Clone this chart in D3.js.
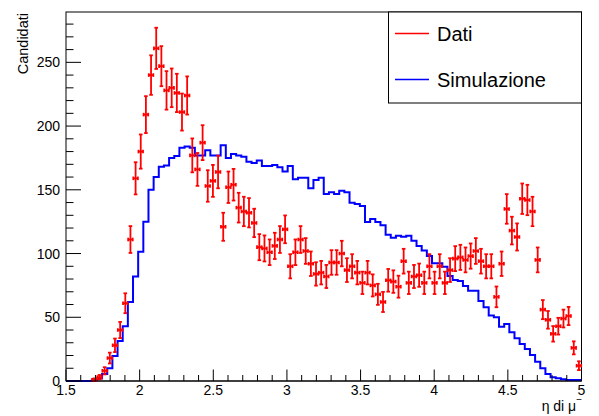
<!DOCTYPE html>
<html><head><meta charset="utf-8">
<script src="https://cdn.jsdelivr.net/npm/d3@7"></script>
<style>
html,body{margin:0;padding:0;background:#fff;}
svg{display:block;}
text{font-family:"Liberation Sans",Arial,Helvetica,sans-serif;fill:#000;}
</style>
</head><body>
<svg id="c" width="599" height="416"></svg>
<script>
// ---- data ----
const xMin = 1.5, xMax = 5.0, nBins = 100;
const dataCounts = [
  0,0,0,0,0, 1,3,8,18,28,
  40,61,111,159,180, 209,240,261,247,228,
  230,226,211,224,177, 166,187,153,157,164,
  121,152,154,136,133, 132,124,105,104,101,
  106,111,119,90,101, 111,102,92,84,85,
  82,93,93,100,87, 90,85,77,85,75,
  68,62,79,78,74, 94,77,82,83,77,
  90,77,90,77,87, 96,97,95,98,102,
  94,90,90,66,92, 135,118,113,143,142,
  133,95,56,48,37, 43,49,51,26,12
];
const simValues = [
  0,0,0,0,0, 0.5,2,5.5,10,19.6,
  31.4,43,62,82,101.5, 125,150,160,168,169,
  175,176.5,183,184,183, 177,177,181,177,177,
  185,175,178,177,176, 172,171,173,168.7,168.7,
  169.5,167.7,164.3,168.7,158.3, 159.5,159.5,151.2,157.7,159.5,
  146.7,148,146.7,149.3,148, 139.9,138.9,137.3,124.8,127.1,
  124.8,122.2,114.8,112.4,114, 113.2,114,110,105.9,102.3,
  98.1,92.3,92.3,89.7,82.4, 79.3,78.5,74.5,70.9,70.9,
  62.8,57.8,51.3,50,42.6, 44.7,38.2,33.5,29,25.1,
  20.4,15.1,10,5.5,2.9, 2.1,1.3,0.8,0.7,0.7
];
const xTicks = [1.5, 2, 2.5, 3, 3.5, 4, 4.5, 5];
const xTickLabels = ["1.5","2","2.5","3","3.5","4","4.5","5"];
const yTicks = [0, 50, 100, 150, 200, 250];
const yTickLabels = ["0","50","100","150","200","250"];
const legendLabels = ["Dati", "Simulazione"];
const seriesColors = ["#ff0000", "#0000ff"];
const yTitle = "Candidati";
const xTitleMain = "η di μ";
const xTitleSup = "−";

// ---- layout ----
const L = 66, R = 581.5, T = 12, B = 381;
const svg = d3.select("#c");
const x = d3.scaleLinear().domain([xMin, xMax]).range([L, R]);
const y = d3.scaleLinear().domain([0, 289.5]).range([B, T]);
const binW = (xMax - xMin) / nBins;
const edges = d3.range(nBins + 1).map(i => xMin + i * binW);

// frame
svg.append("rect").attr("x", L).attr("y", T).attr("width", R - L).attr("height", B - T)
  .attr("fill", "none").attr("stroke", "#000").attr("stroke-width", 1);

// simulation histogram (step outline)
const stepPts = [];
simValues.forEach((v, i) => { stepPts.push([edges[i], v]); stepPts.push([edges[i + 1], v]); });
svg.append("path")
  .attr("d", d3.line().x(d => x(d[0])).y(d => y(d[1]))(stepPts))
  .attr("fill", "none").attr("stroke", seriesColors[1]).attr("stroke-width", 2);

// data with errors
const g = svg.append("g").attr("stroke", seriesColors[0]).attr("stroke-width", 1.8).attr("fill", "none");
dataCounts.forEach((n, i) => {
  if (n <= 0) return;
  const e = Math.sqrt(n);
  const cx = x((edges[i] + edges[i + 1]) / 2);
  const x0 = x(edges[i]) + 0.3, x1 = x(edges[i + 1]) - 0.3;
  const cy = y(n), yt = y(n + e), yb = y(Math.max(0, n - e));
  g.append("line").attr("x1", cx).attr("x2", cx).attr("y1", yt).attr("y2", yb);
  g.append("line").attr("x1", cx - 1.8).attr("x2", cx + 1.8).attr("y1", yt).attr("y2", yt);
  g.append("line").attr("x1", cx - 1.8).attr("x2", cx + 1.8).attr("y1", yb).attr("y2", yb);
  g.append("line").attr("x1", x0).attr("x2", x1).attr("y1", cy).attr("y2", cy);
  g.append("line").attr("x1", x0).attr("x2", x0).attr("y1", cy - 1.8).attr("y2", cy + 1.8);
  g.append("line").attr("x1", x1).attr("x2", x1).attr("y1", cy - 1.8).attr("y2", cy + 1.8);
});

// axes: ticks
const ax = svg.append("g").attr("stroke", "#000").attr("stroke-width", 1);
d3.range(15, 51).forEach(k => {
  const v = k / 10;
  const major = xTicks.some(t => Math.abs(t - v) < 1e-9);
  ax.append("line").attr("x1", x(v)).attr("x2", x(v)).attr("y1", B).attr("y2", B - (major ? 11.5 : 6));
});
d3.range(0, 290, 10).forEach(v => {
  const major = yTicks.includes(v);
  ax.append("line").attr("x1", L).attr("x2", L + (major ? 15 : 7.5)).attr("y1", y(v)).attr("y2", y(v));
});
svg.append("line").attr("x1", L).attr("x2", R).attr("y1", B).attr("y2", B).attr("stroke", "#000");

xTicks.forEach((t, i) => {
  svg.append("text").attr("x", x(t)).attr("y", 395).attr("text-anchor", "middle")
    .attr("font-size", 14).text(xTickLabels[i]);
});
yTicks.forEach((t, i) => {
  svg.append("text").attr("x", 60).attr("y", y(t) + 5).attr("text-anchor", "end")
    .attr("font-size", 14).text(yTickLabels[i]);
});

// titles
svg.append("text").attr("transform", "translate(28,13) rotate(-90)").attr("text-anchor", "end")
  .attr("font-size", 14.5).text(yTitle);
const xt = svg.append("text").attr("x", 582).attr("y", 411).attr("text-anchor", "end").attr("font-size", 14);
xt.append("tspan").text(xTitleMain);
xt.append("tspan").attr("dy", -8).attr("font-size", 10).text(xTitleSup);

// legend
svg.append("rect").attr("x", 388.5).attr("y", 12).attr("width", 193).attr("height", 91)
  .attr("fill", "#fff").attr("stroke", "#000").attr("stroke-width", 1);
const legY = [33.5, 79.5];
legendLabels.forEach((lab, i) => {
  svg.append("line").attr("x1", 395).attr("x2", 429).attr("y1", legY[i]).attr("y2", legY[i])
    .attr("stroke", seriesColors[i]).attr("stroke-width", 1.5);
  svg.append("text").attr("x", 437).attr("y", legY[i] + 7.5).attr("font-size", 20).text(lab);
});
</script>
</body></html>
